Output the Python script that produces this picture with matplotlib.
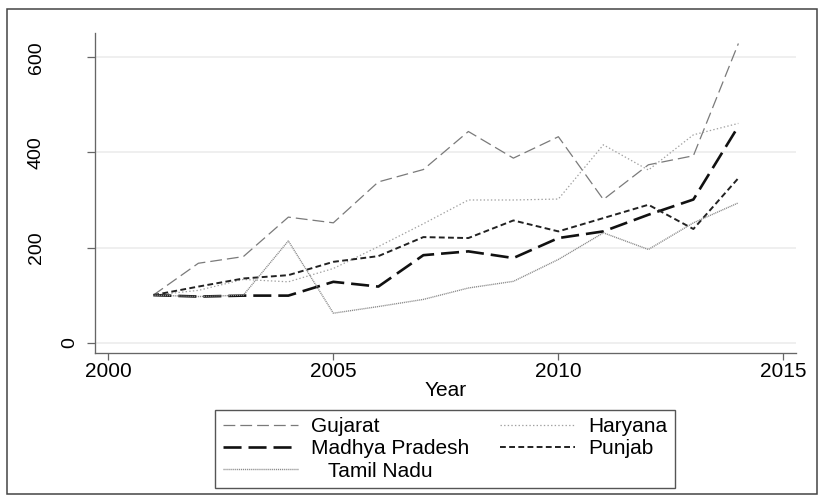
import matplotlib
matplotlib.use('Agg')
import matplotlib.pyplot as plt
from matplotlib.patches import Rectangle

plt.rcParams['font.family'] = ['Liberation Sans', 'DejaVu Sans']
plt.rcParams['lines.scale_dashes'] = False

years = list(range(2001, 2015))
gujarat = [100, 167, 181, 264, 252, 338, 364, 444, 388, 433, 301, 374, 393, 629]
haryana = [100, 110, 133, 128, 156, 202, 250, 300, 300, 302, 416, 363, 437, 461]
madhya_pradesh = [100, 97, 99, 99, 128, 118, 184, 192, 178, 220, 234, 269, 301, 455]
punjab = [100, 118, 135, 142, 170, 182, 222, 220, 257, 234, 262, 290, 239, 346]
tamil_nadu = [100, 97, 100, 214, 62, 76, 91, 115, 129, 175, 231, 196, 252, 294]

y_ticks = [0, 200, 400, 600]
x_ticks = [2000, 2005, 2010, 2015]

W, H = 830, 499
fs = 15
fig = plt.figure(figsize=(W / 100, H / 100), dpi=100)
ax = fig.add_axes([95 / W, 1 - 352.7 / H, (796 - 95) / W, (352.7 - 33.3) / H])

l_guj, = ax.plot(years, gujarat, color='#7a7a7a', lw=0.9, dashes=(8.5, 3.6), label='Gujarat')
l_har, = ax.plot(years, haryana, color='#a0a0a0', lw=0.9, dashes=(1.0, 1.6), label='Haryana')
l_mp, = ax.plot(years, madhya_pradesh, color='#111111', lw=1.9, dashes=(13, 5), label='Madhya Pradesh')
l_pun, = ax.plot(years, punjab, color='#222222', lw=1.4, dashes=(4.2, 2.4), label='Punjab')
l_tn, = ax.plot(years, tamil_nadu, color='#8a8a8a', lw=1.0, dashes=(0.8, 0.6), label='   Tamil Nadu')

ax.set_xlim(1999.704, 2015.28)
ax.set_ylim(-21, 650.4)
ax.set_xticks(x_ticks)
ax.set_yticks(y_ticks)
ax.set_yticklabels([])

ax.yaxis.grid(True, color='#ebebeb', lw=1.1)
ax.set_axisbelow(True)
for side in ['top', 'right']:
    ax.spines[side].set_visible(False)
for side in ['left', 'bottom']:
    ax.spines[side].set_color('#666666')
    ax.spines[side].set_linewidth(0.95)

ax.tick_params(axis='x', length=5, width=0.9, color='#666666', pad=2, labelsize=fs)
ax.tick_params(axis='y', length=6, width=0.9, color='#666666')

# vertical y labels, the zero label sits closer to the axis
for v in y_ticks:
    off = -25 if v == 0 else -59
    ax.annotate(str(v), xy=(0, v), xycoords=ax.get_yaxis_transform(),
                xytext=(off, 0), textcoords='offset pixels',
                rotation=90, ha='center', va='center', fontsize=14)

ax.set_xlabel('Year', fontsize=fs, labelpad=0)

leg = ax.legend(handles=[l_guj, l_mp, l_tn, l_har, l_pun], ncol=2,
                loc='upper center', bbox_to_anchor=(445 / W, 1 - 410 / H),
                bbox_transform=fig.transFigure, fontsize=fs,
                handlelength=3.6, handletextpad=0.62, columnspacing=1.5,
                labelspacing=0.15, borderpad=0.35, borderaxespad=0,
                fancybox=False, framealpha=1)
leg.get_frame().set_edgecolor('#555555')
leg.get_frame().set_linewidth(1.0)

fig.patches.append(Rectangle((7 / W, 5 / H), 810 / W, 485 / H, transform=fig.transFigure,
                             fill=False, ec='#444444', lw=1.1))

fig.savefig('out.png', dpi=100)
